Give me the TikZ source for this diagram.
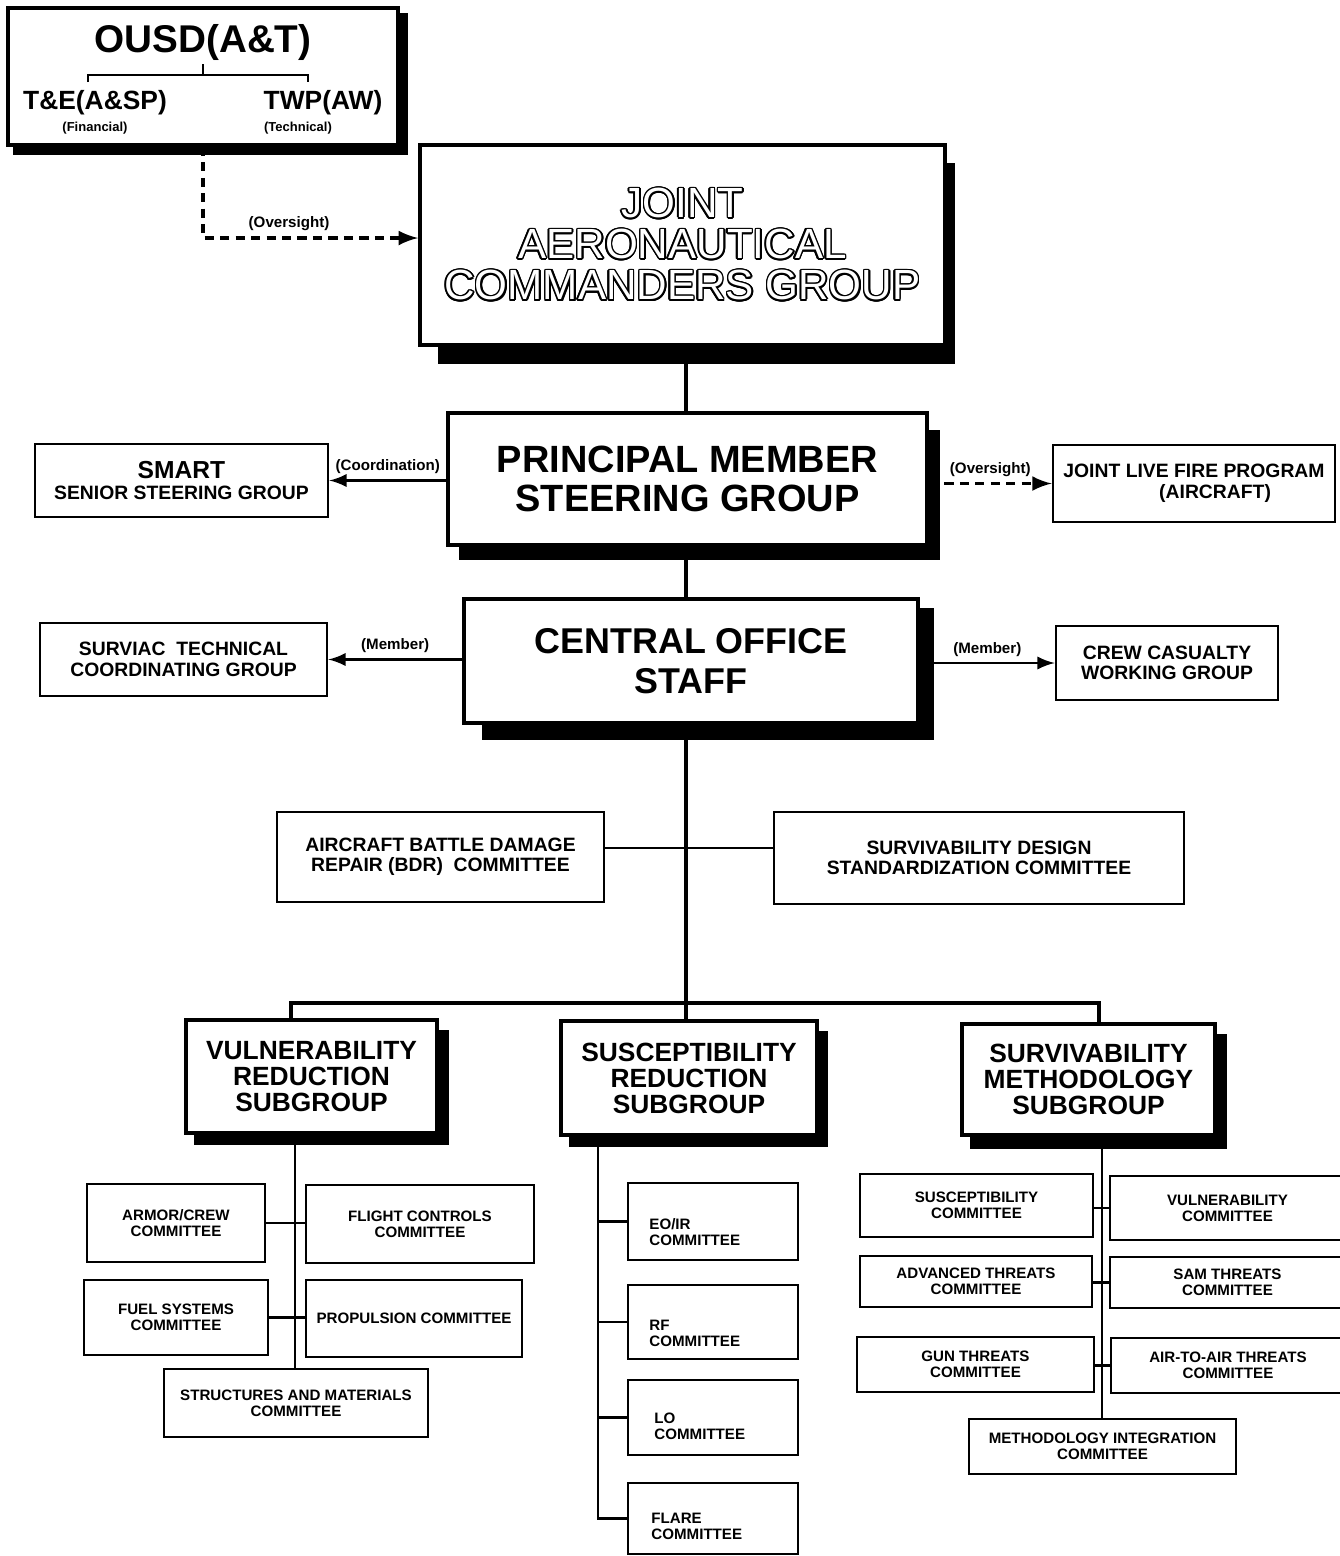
\documentclass[tikz,border=0pt]{standalone}
\usepackage{fontspec}
\setmainfont{Liberation Sans}
\usepackage{xcolor}
\usepackage{contour}
\usetikzlibrary{arrows,backgrounds}

\newcommand{\tinyb}{\fontsize{4.3pt}{4.6pt}\selectfont\bfseries}
\newcommand{\midb}{\fontsize{5.5pt}{5.8pt}\selectfont\bfseries}
\newcommand{\subb}{\fontsize{7.5pt}{7.4pt}\selectfont\bfseries}
\newcommand{\bigb}{\fontsize{10.8pt}{11pt}\selectfont\bfseries}
\newcommand{\hollow}[1]{\contour{black}{\textcolor{white}{#1}}}
\newcommand{\dropsh}[3]{\fill ([shift={(#2)}]#1.south west) rectangle ([shift={(#3)}]#1.north east);}
\contourlength{0.45pt}

\tikzset{
	box/.style={draw, line width=0.7pt, fill=white, inner sep=0pt, align=center, font=\midb},
	cbox/.style={box, font=\tinyb},
	mainbox/.style={box, line width=1pt},
	lbl/.style={font=\fontsize{4.3pt}{4.5pt}\selectfont\bfseries, inner sep=1.5pt},
	link/.style={line width=0.7pt},
	conn/.style={line width=0.7pt, -latex},
	dashconn/.style={line width=0.9pt, -latex, dash pattern=on 2.6pt off 1.8pt},
	bus/.style={line width=1.1pt}
	}

\begin{document}
\begin{tikzpicture}[x=0.01cm, y=-0.01cm]

	\useasboundingbox (0,0) rectangle (1340,1556);

	% OSD box
	\node[mainbox, minimum width=3.9cm, minimum height=1.37cm] (ousd) at (203,76.5) {};
	\node[font=\fontsize{11pt}{11pt}\selectfont\bfseries, inner sep=1pt] (ousdtitle) at (203,42) {OUSD(A\&T)};
	\node[font=\fontsize{7.5pt}{7.5pt}\selectfont\bfseries, inner sep=1pt] (tesp) at (95,103) {T\&E(A\&SP)};
	\node[font=\fontsize{7.5pt}{7.5pt}\selectfont\bfseries, inner sep=1pt] (twpaw) at (323,103) {TWP(AW)};
	\node[font=\fontsize{3.7pt}{3.7pt}\selectfont\bfseries, inner sep=0pt] (financial) at (95,128) {(Financial)};
	\node[font=\fontsize{3.7pt}{3.7pt}\selectfont\bfseries, inner sep=0pt] (technical) at (298,128) {(Technical)};
	\coordinate (brtop) at (203,75);
	\coordinate (brl) at (88,82);
	\coordinate (brr) at (308,82);
	\draw[link] (ousdtitle.south) -- (brtop);
	\draw[link] (brl) -- ++(0,-7) -| (brr);

	% main chain
	\node[mainbox, minimum width=5.25cm, minimum height=2cm, font=\fontsize{12pt}{11.7pt}\selectfont] (jacg) at (682.5,245)
		{\hollow{JOINT}\\\hollow{AERONAUTICAL}\\\hollow{COMMANDERS GROUP}};
	\node[mainbox, minimum width=4.79cm, minimum height=1.32cm, font=\bigb] (pmsg) at (687.5,479) {PRINCIPAL MEMBER\\STEERING GROUP};
	\node[mainbox, minimum width=4.54cm, minimum height=1.24cm, font=\fontsize{10.2pt}{11.4pt}\selectfont\bfseries] (cos) at (691,661) {CENTRAL OFFICE\\STAFF};

	% side boxes
	\node[box, minimum width=2.93cm, minimum height=0.73cm] (smart) at (181.5,480.5)
		{{\fontsize{7pt}{7pt}\selectfont\bfseries SMART}\\SENIOR STEERING GROUP};
	\node[box, minimum width=2.82cm, minimum height=0.77cm, font=\fontsize{5.5pt}{6pt}\selectfont\bfseries] (jlfp) at (1194,483.5)
		{JOINT LIVE FIRE PROGRAM\\\hspace*{12pt}(AIRCRAFT)};
	\node[box, minimum width=2.87cm, minimum height=0.73cm] (surviac) at (183.5,659.5) {SURVIAC\ \ TECHNICAL\\COORDINATING GROUP};
	\node[box, minimum width=2.22cm, minimum height=0.74cm] (ccwg) at (1167,663) {CREW CASUALTY\\WORKING GROUP};

	% committees on the trunk
	\node[box, minimum width=3.27cm, minimum height=0.9cm] (abdr) at (440.5,857) {AIRCRAFT BATTLE DAMAGE\\REPAIR (BDR)\ \ COMMITTEE};
	\node[box, minimum width=4.1cm, minimum height=0.92cm] (sdsc) at (979,858) {SURVIVABILITY DESIGN\\STANDARDIZATION COMMITTEE};

	% subgroups
	\node[mainbox, minimum width=2.51cm, minimum height=1.13cm, font=\subb] (vrs) at (311.5,1076.5) {VULNERABILITY\\REDUCTION\\SUBGROUP};
	\node[mainbox, minimum width=2.56cm, minimum height=1.14cm, font=\subb] (srs) at (689,1078) {SUSCEPTIBILITY\\REDUCTION\\SUBGROUP};
	\node[mainbox, minimum width=2.53cm, minimum height=1.11cm, font=\subb] (sms) at (1088.5,1079.5) {SURVIVABILITY\\METHODOLOGY\\SUBGROUP};

	% vulnerability committees
	\node[cbox, minimum width=1.78cm, minimum height=0.78cm] (armor) at (176,1223) {ARMOR/CREW\\COMMITTEE};
	\node[cbox, minimum width=2.28cm, minimum height=0.78cm] (flight) at (420,1224) {FLIGHT CONTROLS\\COMMITTEE};
	\node[cbox, minimum width=1.84cm, minimum height=0.75cm] (fuel) at (176,1317.5) {FUEL SYSTEMS\\COMMITTEE};
	\node[cbox, minimum width=2.16cm, minimum height=0.77cm] (propulsion) at (414,1318.5) {PROPULSION COMMITTEE};
	\node[cbox, minimum width=2.64cm, minimum height=0.68cm] (structures) at (296,1403) {STRUCTURES AND MATERIALS\\COMMITTEE};

	% susceptibility committees
	\node[cbox, minimum width=1.7cm, minimum height=0.77cm] (eoir) at (713,1221.5) {};
	\node[cbox, minimum width=1.7cm, minimum height=0.74cm] (rf) at (713,1322) {};
	\node[cbox, minimum width=1.7cm, minimum height=0.75cm] (lo) at (713,1417.5) {};
	\node[cbox, minimum width=1.7cm, minimum height=0.71cm] (flare) at (713,1518.5) {};
	\node[font=\tinyb, align=left, anchor=west, inner sep=0pt] (eoirtext) at ([shift={(22,10.5)}]eoir.west) {EO/IR\\COMMITTEE};
	\node[font=\tinyb, align=left, anchor=west, inner sep=0pt] (rftext) at ([shift={(22,11)}]rf.west) {RF\\COMMITTEE};
	\node[font=\tinyb, align=left, anchor=west, inner sep=0pt] (lotext) at ([shift={(27,8.5)}]lo.west) {LO\\COMMITTEE};
	\node[font=\tinyb, align=left, anchor=west, inner sep=0pt] (flaretext) at ([shift={(24,7.5)}]flare.west) {FLARE\\COMMITTEE};

	% methodology committees
	\node[cbox, minimum width=2.33cm, minimum height=0.63cm] (susccom) at (976.5,1205.5) {SUSCEPTIBILITY\\COMMITTEE};
	\node[cbox, minimum width=2.35cm, minimum height=0.64cm] (vulncom) at (1227.5,1208) {VULNERABILITY\\COMMITTEE};
	\node[cbox, minimum width=2.32cm, minimum height=0.51cm] (advcom) at (976,1281.5) {ADVANCED THREATS\\COMMITTEE};
	\node[cbox, minimum width=2.35cm, minimum height=0.51cm] (samcom) at (1227.5,1282.5) {SAM THREATS\\COMMITTEE};
	\node[cbox, minimum width=2.37cm, minimum height=0.55cm] (guncom) at (975.5,1364.5) {GUN THREATS\\COMMITTEE};
	\node[cbox, minimum width=2.34cm, minimum height=0.55cm] (aircom) at (1228,1365.5) {AIR-TO-AIR THREATS\\COMMITTEE};
	\node[cbox, minimum width=2.67cm, minimum height=0.55cm] (meth) at (1102.5,1446.5) {METHODOLOGY INTEGRATION\\COMMITTEE};

	% shadows
	\begin{scope}[on background layer]
		\dropsh{ousd}{7,8}{8,7}
		\dropsh{jacg}{20,17}{8,20}
		\dropsh{pmsg}{13,13}{11,19}
		\dropsh{cos}{20,15}{14,11}
		\dropsh{vrs}{10,10}{10,12}
		\dropsh{srs}{10,10}{9,12}
		\dropsh{sms}{10,12}{10,12}
	\end{scope}

	% oversight from OUSD
	\coordinate (jacgin) at ([shift={(0,-7)}]jacg.west);
	\draw[dashconn] (ousd.south) |- node[lbl, above, pos=0.7] {(Oversight)} (jacgin);

	% trunk
	\coordinate (spine) at (686,0);
	\draw[bus] (jacg.south -| spine) -- (pmsg.north -| spine);
	\draw[bus] (pmsg.south -| spine) -- (cos.north -| spine);
	\draw[bus] (cos.south -| spine) -- (srs.north -| spine);

	% side arrows
	\draw[conn] (pmsg.west |- smart.east) -- node[lbl, above] {(Coordination)} (smart.east);
	\draw[dashconn] (pmsg.east |- jlfp.west) -- node[lbl, above] {(Oversight)} (jlfp.west);
	\draw[conn] (cos.west |- surviac.east) -- node[lbl, above] {(Member)} (surviac.east);
	\draw[conn] (cos.east |- ccwg.west) -- node[lbl, above] {(Member)} (ccwg.west);

	% committees across the trunk
	\coordinate (abdrout) at ([shift={(0,-9)}]abdr.east);
	\draw[link] (abdrout) -- (abdrout -| sdsc.west);

	% bus to the subgroups
	\coordinate (barl) at (291,1003);
	\coordinate (barr) at (1099,1003);
	\draw[bus] (vrs.north -| barl) -- (barl) -- (barr) -- (sms.north -| barr);

	% vulnerability branch
	\coordinate (vtrunk) at (295,0);
	\draw[link] (vrs.south -| vtrunk) -- (structures.north -| vtrunk);
	\draw[link] (armor.east) -- (armor.east -| flight.west);
	\draw[link] (fuel.east) -- (fuel.east -| propulsion.west);

	% susceptibility branch
	\coordinate (strunk) at (598,0);
	\draw[link] (srs.south -| strunk) |- (flare.west);
	\foreach \c in {eoir,rf,lo}
		\draw[link] (\c.west) -- (\c.west -| strunk);

	% methodology branch
	\coordinate (mtrunk) at (1102,0);
	\draw[link] (sms.south -| mtrunk) -- (meth.north -| mtrunk);
	\draw[link] (vulncom.west -| susccom.east) -- (vulncom.west);
	\draw[link] (samcom.west -| advcom.east) -- (samcom.west);
	\draw[link] (aircom.west -| guncom.east) -- (aircom.west);

\end{tikzpicture}
\end{document}
